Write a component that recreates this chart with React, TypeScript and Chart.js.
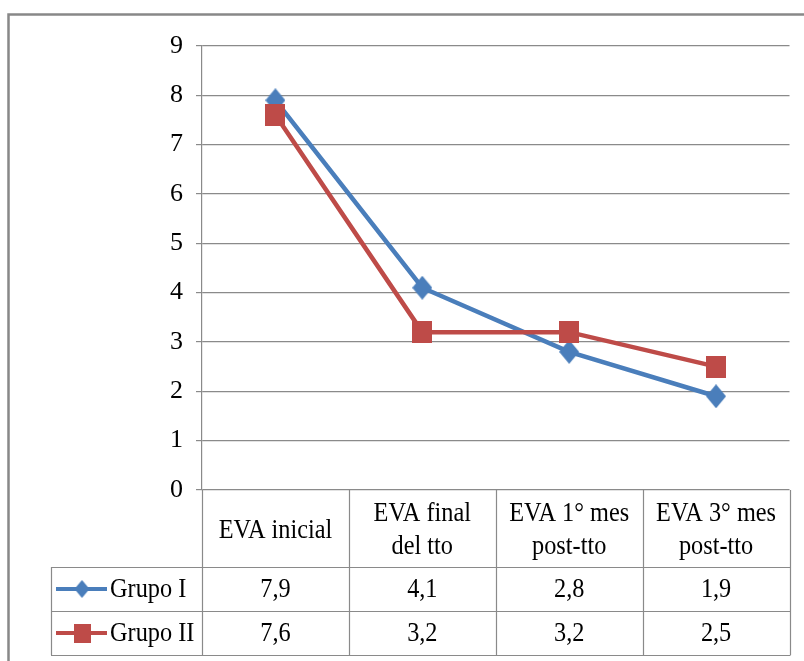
import React, { useEffect, useRef } from "react";
import { Chart, registerables } from "chart.js";

Chart.register(...registerables);

const categories: string[][] = [
  ["EVA inicial"],
  ["EVA final", "del tto"],
  ["EVA 1° mes", "post-tto"],
  ["EVA 3° mes", "post-tto"],
];
const seriesNames = ["Grupo I", "Grupo II"];
const grupoI = [7.9, 4.1, 2.8, 1.9];
const grupoII = [7.6, 3.2, 3.2, 2.5];
const yMin = 0;
const yMax = 9;
const yStep = 1;

const BLUE = "#4A7EBB";
const RED = "#BE4B48";
const GRID = "#8a8a8a";
const FONT = "'Liberation Serif', 'Times New Roman', serif";
const SX = 0.9;

function makeDiamond(w: number, h: number, color: string) {
  const c = document.createElement("canvas");
  c.width = w;
  c.height = h;
  const g = c.getContext("2d")!;
  g.fillStyle = color;
  g.beginPath();
  g.moveTo(w / 2, 0);
  g.lineTo(w, h / 2);
  g.lineTo(w / 2, h);
  g.lineTo(0, h / 2);
  g.closePath();
  g.fill();
  return c;
}
function makeSquare(w: number, h: number, color: string) {
  const c = document.createElement("canvas");
  c.width = w;
  c.height = h;
  const g = c.getContext("2d")!;
  g.fillStyle = color;
  g.fillRect(0, 0, w, h);
  return c;
}

function fmt(v: number) {
  return v.toFixed(1).replace(".", ",");
}

function drawText(ctx: CanvasRenderingContext2D, text: string, x: number, y: number, align: CanvasTextAlign) {
  ctx.save();
  ctx.translate(x, y);
  ctx.scale(SX, 1);
  ctx.textAlign = align;
  ctx.textBaseline = "middle";
  ctx.fillText(text, 0, 0);
  ctx.restore();
}

export default function App() {
  const ref = useRef<HTMLCanvasElement | null>(null);
  useEffect(() => {
    if (!ref.current) return;
    const diamond = makeDiamond(20, 24, BLUE);
    const square = makeSquare(20, 22, RED);
    const diamondSmall = makeDiamond(15, 18, BLUE);
    const squareSmall = makeSquare(17, 19, RED);

    const frame = {
      id: "frame",
      beforeDraw(chart: any) {
        const ctx = chart.ctx;
        ctx.save();
        ctx.fillStyle = "#fff";
        ctx.fillRect(0, 0, chart.width, chart.height);
        ctx.strokeStyle = "#888";
        ctx.lineWidth = 2.5;
        ctx.beginPath();
        ctx.moveTo(8.5, chart.height + 5);
        ctx.lineTo(8.5, 14.5);
        ctx.lineTo(chart.width + 5, 14.5);
        ctx.stroke();
        ctx.restore();
      },
    };

    const table = {
      id: "table",
      afterDraw(chart: any) {
        const ctx: CanvasRenderingContext2D = chart.ctx;
        const area = chart.chartArea;
        const x = chart.scales.x;
        const n = categories.length;
        const step = x.getPixelForValue(1) - x.getPixelForValue(0);
        const top = area.bottom;
        const headerBottom = top + 77;
        const rowH = 44;
        const bottom = headerBottom + rowH * seriesNames.length;
        const legendLeft = 51;
        ctx.save();
        ctx.strokeStyle = GRID;
        ctx.lineWidth = 1.2;
        ctx.beginPath();
        for (let i = 0; i <= n; i++) {
          const xb = Math.round(i < n ? x.getPixelForValue(i) - step / 2 : area.right) + 0.5;
          ctx.moveTo(xb, top);
          ctx.lineTo(xb, bottom);
        }
        ctx.moveTo(legendLeft + 0.5, headerBottom);
        ctx.lineTo(legendLeft + 0.5, bottom);
        for (let r = 0; r <= seriesNames.length; r++) {
          const yb = Math.round(headerBottom + r * rowH) + 0.5;
          ctx.moveTo(legendLeft, yb);
          ctx.lineTo(area.right + 1, yb);
        }
        ctx.stroke();

        ctx.fillStyle = "#000";
        ctx.font = `27px ${FONT}`;
        const lineH = 33;
        categories.forEach((lines, i) => {
          const cx = x.getPixelForValue(i);
          const cy = (top + headerBottom) / 2 + 2;
          lines.forEach((t, j) => {
            drawText(ctx, t, cx, cy + (j - (lines.length - 1) / 2) * lineH, "center");
          });
        });
        const series = [grupoI, grupoII];
        const colors = [BLUE, RED];
        const marks = [diamondSmall, squareSmall];
        series.forEach((vals, r) => {
          const cy = headerBottom + rowH * r + rowH / 2;
          vals.forEach((v, i) => {
            drawText(ctx, fmt(v), x.getPixelForValue(i), cy + 1, "center");
          });
          ctx.strokeStyle = colors[r];
          ctx.lineWidth = 4;
          ctx.beginPath();
          ctx.moveTo(56, cy);
          ctx.lineTo(107, cy);
          ctx.stroke();
          const m = marks[r];
          ctx.drawImage(m, 82 - m.width / 2, cy - m.height / 2);
          drawText(ctx, seriesNames[r], 110, cy + 1, "left");
        });
        ctx.restore();
      },
    };

    const chart = new Chart(ref.current, {
      type: "line",
      data: {
        labels: categories,
        datasets: [
          {
            label: seriesNames[0],
            data: grupoI,
            borderColor: BLUE,
            backgroundColor: BLUE,
            borderWidth: 4.5,
            pointStyle: diamond as any,
            pointRadius: 10,
            order: 2,
          },
          {
            label: seriesNames[1],
            data: grupoII,
            borderColor: RED,
            backgroundColor: RED,
            borderWidth: 4.5,
            pointStyle: square as any,
            pointRadius: 10,
            order: 1,
          },
        ],
      },
      options: {
        responsive: false,
        animation: false,
        events: [],
        layout: { padding: { top: 46, bottom: 171, left: 0, right: 12 } },
        plugins: {
          legend: { display: false },
          tooltip: { enabled: false },
          title: { display: false },
        },
        scales: {
          x: { display: false, offset: true },
          y: {
            min: yMin,
            max: yMax,
            ticks: {
              stepSize: yStep,
              color: "#000",
              padding: 13,
              font: { family: FONT, size: 26 },
            },
            grid: { color: GRID, lineWidth: 1.2, tickLength: 6 },
            border: { color: GRID, width: 1.2 },
            afterFit: (scale: any) => {
              scale.width = 202;
            },
          },
        },
      },
      plugins: [frame, table],
    });
    return () => chart.destroy();
  }, []);
  return (
    <div style={{ position: "absolute", left: 0, top: 0, width: 804, height: 661 }}>
      <canvas ref={ref} width={804} height={661} />
    </div>
  );
}
